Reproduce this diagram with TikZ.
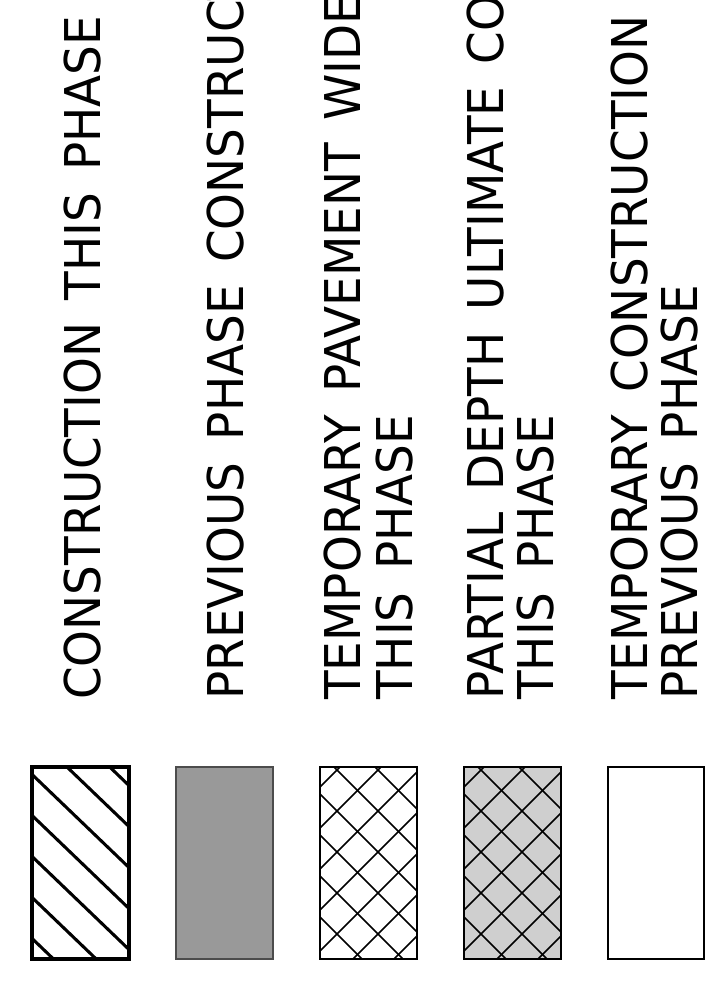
\documentclass[tikz,border=0pt]{standalone}
\usepackage{fontspec}
\setmainfont{DejaVu Sans}[FakeStretch=0.95,WordSpace=1.5]
\begin{document}
\begin{tikzpicture}[x=0.75pt,y=-0.75pt,
  lbl/.style={rotate=90,anchor=base west,inner sep=0pt,font=\fontsize{37}{39}\selectfont},
  legbox/.style={draw=black,line width=1.5pt},
  hatchline/.style={line width=2.3pt,line cap=butt},
  crossline/.style={line width=1.2pt}]
\useasboundingbox (0,0) rectangle (719,1004);
\clip (0,0) rectangle (719,1004);
% labels
\node[lbl] (t1) at (100,700) {CONSTRUCTION THIS PHASE};
\node[lbl] (t2) at (243,700) {PREVIOUS PHASE CONSTRUCTION};
\node[lbl] (t3a) at (360,700) {TEMPORARY PAVEMENT WIDENING};
\node[lbl] (t3b) at (412,700) {THIS PHASE};
\node[lbl] (t4a) at (503,700) {PARTIAL DEPTH ULTIMATE CONSTRUCTION};
\node[lbl] (t4b) at (553,700) {THIS PHASE};
\node[lbl] (t5a) at (647,700) {TEMPORARY CONSTRUCTION};
\node[lbl] (t5b) at (697,700) {PREVIOUS PHASE};
% box 1: single hatch
\begin{scope}
  \clip (32,767) rectangle ++(97,192);
  \foreach \k in {-3,...,6}{
    \draw[hatchline] (12,{767+0.96*(-20)-33.6+41*\k}) -- (150,{767+0.96*118-33.6+41*\k});
  }
\end{scope}
\draw[legbox,line width=2.3pt] (32,767) rectangle ++(97,192) node[coordinate] (b1) {};
% box 2: gray
\draw[draw=black!70,fill=black!40,line width=1.5pt] (176,767) rectangle ++(97,192) node[coordinate] (b2) {};
% box 3: cross hatch
\begin{scope}
  \clip (320,767) rectangle ++(97,192);
  \foreach \k in {-4,...,6}{
    \draw[crossline] (300,{767-20-14+41*\k}) -- (440,{767+120-14+41*\k});
    \draw[crossline] (300,{767+20+20+41*\k}) -- (440,{767-120+20+41*\k});
  }
\end{scope}
\draw[legbox] (320,767) rectangle ++(97,192) node[coordinate] (b3) {};
% box 4: cross hatch on light gray
\fill[black!19] (464,767) rectangle ++(97,192);
\begin{scope}
  \clip (464,767) rectangle ++(97,192);
  \foreach \k in {-4,...,6}{
    \draw[crossline] (444,{767-20-14+41*\k}) -- (584,{767+120-14+41*\k});
    \draw[crossline] (444,{767+20+20+41*\k}) -- (584,{767-120+20+41*\k});
  }
\end{scope}
\draw[legbox] (464,767) rectangle ++(97,192) node[coordinate] (b4) {};
% box 5: empty
\draw[legbox] (608,767) rectangle ++(96,192) node[coordinate] (b5) {};
\end{tikzpicture}
\end{document}
